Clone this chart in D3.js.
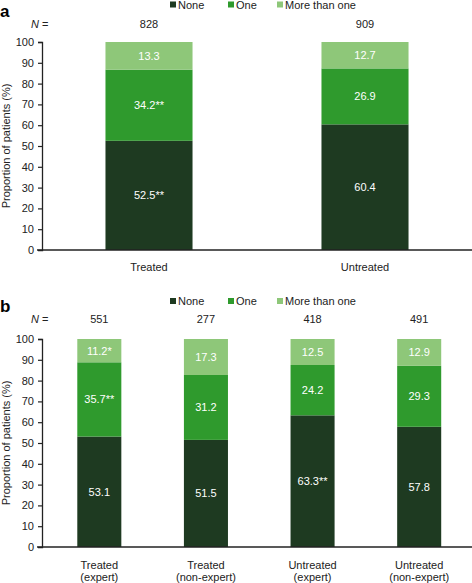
<!DOCTYPE html>
<html><head><meta charset="utf-8">
<script src="https://cdn.jsdelivr.net/npm/d3@7"></script>
<style>body{margin:0;background:#fff}svg{display:block;font-family:"Liberation Sans",Arial,sans-serif}</style>
</head><body><svg id="c" width="472" height="583"></svg>
<script>
const seriesNames = ["None", "One", "More than one"];
const colors = ["#1e3a21", "#2f9a2d", "#8ec779"];
const yTicks = [0,10,20,30,40,50,60,70,80,90,100];

const catsA = [["Treated"], ["Untreated"]];
const nA = ["828", "909"];
const noneA = [52.5, 60.4];
const oneA = [34.2, 26.9];
const moreA = [13.3, 12.7];
const lblNoneA = ["52.5**", "60.4"];
const lblOneA = ["34.2**", "26.9"];
const lblMoreA = ["13.3", "12.7"];

const catsB = [["Treated","(expert)"], ["Treated","(non-expert)"], ["Untreated","(expert)"], ["Untreated","(non-expert)"]];
const nB = ["551", "277", "418", "491"];
const noneB = [53.1, 51.5, 63.3, 57.8];
const oneB = [35.7, 31.2, 24.2, 29.3];
const moreB = [11.2, 17.3, 12.5, 12.9];
const lblNoneB = ["53.1", "51.5", "63.3**", "57.8"];
const lblOneB = ["35.7**", "31.2", "24.2", "29.3"];
const lblMoreB = ["11.2*", "17.3", "12.5", "12.9"];

const svg = d3.select("#c");

function panel(o) {
  const g = svg.append("g");
  const y = d3.scaleLinear().domain([0, 100]).range([o.y0, o.y100]);
  const x = d3.scaleBand().domain(o.cats.map((c,i)=>i)).range(o.xr).paddingInner(o.pad).paddingOuter(o.pad/2);
  // panel letter
  g.append("text").attr("x", 0).attr("y", o.letterY).attr("font-size", 17).attr("font-weight", "bold").text(o.letter);
  // legend
  const lx = [170, 228, 277];
  seriesNames.forEach((s, i) => {
    g.append("rect").attr("x", lx[i]).attr("y", o.legY - 3).attr("width", 6).attr("height", 6).attr("fill", colors[i]);
    g.append("text").attr("x", lx[i] + 8).attr("y", o.legY + 4).attr("font-size", 11).attr("fill", "#222").text(s);
  });
  // N =
  g.append("text").attr("x", 31).attr("y", o.nY).attr("font-size", 11).attr("fill", "#222")
    .html('<tspan font-style="italic">N</tspan> =');
  o.ns.forEach((n, i) => {
    g.append("text").attr("x", x(i) + x.bandwidth()/2).attr("y", o.nY).attr("text-anchor", "middle").attr("font-size", 11).attr("fill", "#222").text(n);
  });
  // bars
  const stacks = [o.none, o.one, o.more];
  const lbls = [o.lNone, o.lOne, o.lMore];
  o.cats.forEach((c, i) => {
    let base = 0;
    stacks.forEach((arr, k) => {
      const v = arr[i];
      g.append("rect").attr("x", x(i)).attr("width", x.bandwidth())
        .attr("y", y(base + v)).attr("height", y(base) - y(base + v)).attr("fill", colors[k]);
      g.append("text").attr("x", x(i) + x.bandwidth()/2).attr("y", y(base + v/2) + 4)
        .attr("text-anchor", "middle").attr("font-size", 11).attr("fill", "#fff").text(lbls[k][i]);
      base += v;
    });
  });
  // y axis
  const ax = g.append("g").attr("transform", `translate(${o.axX},0)`)
    .call(d3.axisLeft(y).tickValues(yTicks).tickSize(4).tickPadding(4));
  ax.select(".domain").attr("stroke", "#222").attr("stroke-width", 1.3);
  ax.selectAll(".tick line").attr("stroke", "#222").attr("stroke-width", 1.2);
  ax.selectAll(".tick text").attr("font-size", 11).attr("fill", "#222").attr("font-family", "Liberation Sans, Arial, sans-serif");
  ax.selectAll(".tick").filter(d => d === 0).select("line").remove();
  // baseline
  g.append("line").attr("x1", 37).attr("x2", 472).attr("y1", y(0)).attr("y2", y(0)).attr("stroke", "#222").attr("stroke-width", 1.3);
  // y title
  g.append("text").attr("transform", `translate(10,${(o.y0 + o.y100)/2}) rotate(-90)`).attr("text-anchor", "middle")
    .attr("font-size", 11).attr("fill", "#222").text("Proportion of patients (%)");
  // category labels
  o.cats.forEach((c, i) => {
    c.forEach((line, j) => {
      g.append("text").attr("x", x(i) + x.bandwidth()/2).attr("y", o.catY + j * 12).attr("text-anchor", "middle")
        .attr("font-size", 11).attr("fill", "#222").text(line);
    });
  });
}

panel({letter: "a", letterY: 17, legY: 4.5, nY: 28, y0: 250, y100: 42, xr: [41, 473], pad: 0.597, axX: 42,
  cats: catsA, ns: nA, none: noneA, one: oneA, more: moreA, lNone: lblNoneA, lOne: lblOneA, lMore: lblMoreA, catY: 271});
panel({letter: "b", letterY: 312, legY: 301, nY: 323, y0: 547, y100: 339, xr: [46, 472.5], pad: 0.587, axX: 42,
  cats: catsB, ns: nB, none: noneB, one: oneB, more: moreB, lNone: lblNoneB, lOne: lblOneB, lMore: lblMoreB, catY: 569});
</script></body></html>
